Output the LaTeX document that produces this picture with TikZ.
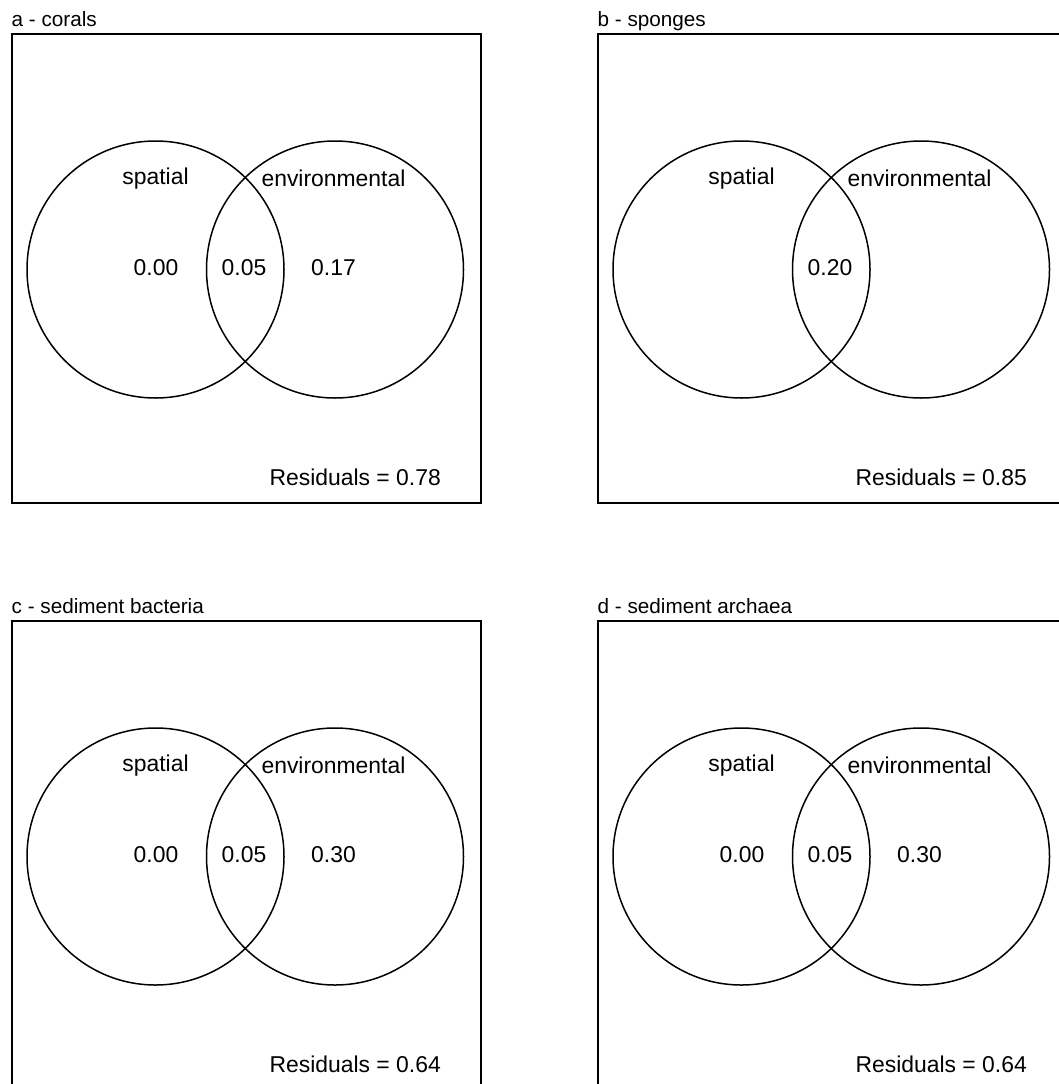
\documentclass[tikz,border=0pt]{standalone}
\usepackage{fontspec}
\setmainfont{Liberation Sans}
\tikzset{
  panelbox/.style={draw, line width=1.6pt, minimum width=469pt, minimum height=469pt, anchor=north west, inner sep=0pt},
  vcircle/.style={draw, circle, line width=1.5pt, minimum size=257pt, inner sep=0pt},
  lab/.style={anchor=base, inner sep=0pt, font=\fontsize{22.9}{27}\selectfont},
  reslab/.style={anchor=base east, inner sep=0pt, font=\fontsize{22.9}{27}\selectfont},
  titlelab/.style={anchor=base west, inner sep=0pt, font=\fontsize{20.7}{25}\selectfont}
}
\newcommand\vennpanel[8]{%
\begin{scope}[shift={(#2,#3)}]
\node[panelbox] (#1box) at (11,33) {};
\node[titlelab] (#1title) at (11.5,26) {#4};
\node[vcircle] (#1sp) at (155.5,269.5) {};
\node[vcircle] (#1env) at (335,269.5) {};
\node[lab] (#1splab) at (155.5,184) {spatial};
\node[lab] (#1envlab) at (333.5,186.5) {environmental};
\node[lab] (#1a) at (156,275) {#5};
\node[lab] (#1b) at (244,275) {#6};
\node[lab] (#1c) at (333.5,275) {#7};
\node[reslab] (#1res) at (441,485) {Residuals = #8};
\end{scope}}
\begin{document}
\begin{tikzpicture}[x=1pt,y=-1pt]
\useasboundingbox (0,0) rectangle (1059,1084);
\clip (0,0) rectangle (1059,1084);
\fill[white] (0,0) rectangle (1059,1084);
\vennpanel{a}{0}{0}{a - corals}{0.00}{0.05}{0.17}{0.78}
\vennpanel{b}{586}{0}{b - sponges}{}{0.20}{}{0.85}
\vennpanel{c}{0}{587}{c - sediment bacteria}{0.00}{0.05}{0.30}{0.64}
\vennpanel{d}{586}{587}{d - sediment archaea}{0.00}{0.05}{0.30}{0.64}
\end{tikzpicture}
\end{document}
